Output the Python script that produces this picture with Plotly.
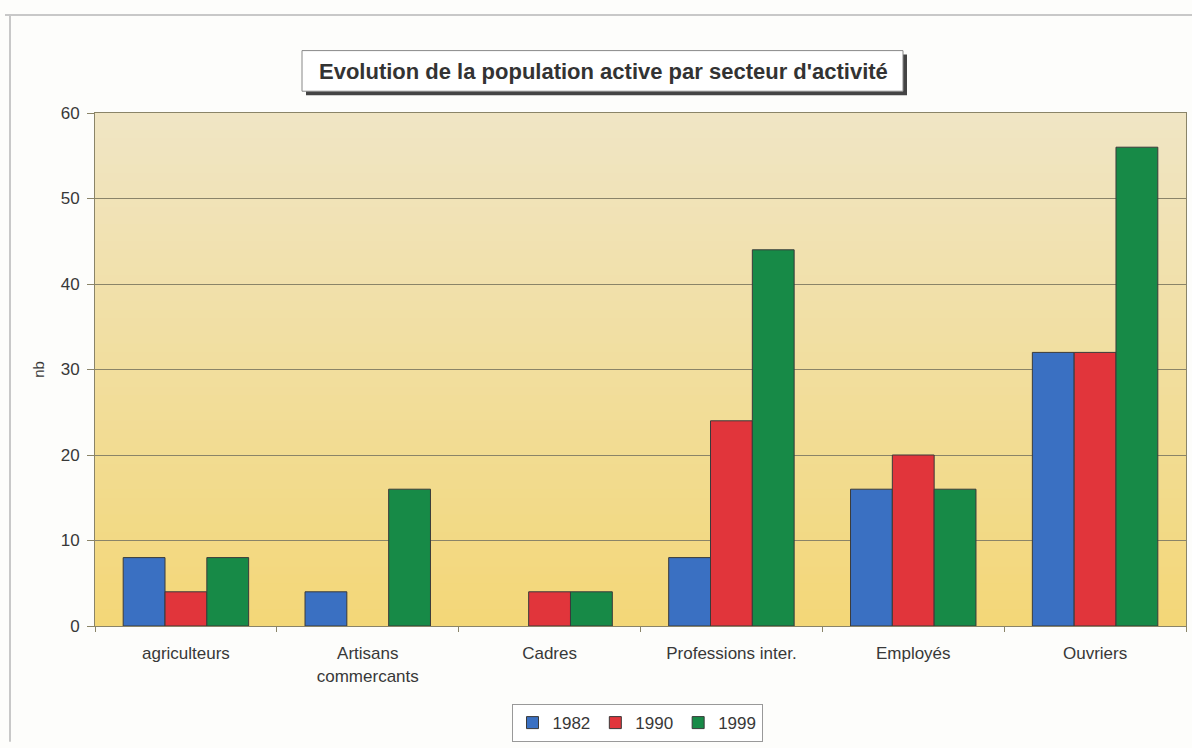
import plotly.graph_objects as go

categories = ["agriculteurs", "Artisans<br>commercants", "Cadres", "Professions inter.", "Employés", "Ouvriers"]
years = ["1982", "1990", "1999"]
v1982 = [8, 4, 0, 8, 16, 32]
v1990 = [4, 0, 4, 24, 20, 32]
v1999 = [8, 16, 4, 44, 16, 56]
colors = ["#3a70c2", "#e1353b", "#178a47"]

W, H = 1192, 748
L, R, T, B = 95, 6, 113, 117
pw, ph = W - L - R, H - T - B

def px(x):
    return (x - L) / pw

def py(y):
    return (H - B - y) / ph

fig = go.Figure()
for name, vals, c in zip(years, [v1982, v1990, v1999], colors):
    fig.add_trace(go.Bar(x=categories, y=vals, name=name,
                         marker=dict(color=c, line=dict(color="#3a3a3a",
                                                        width=[1 if v else 0 for v in vals]))))

# gradient background of plot area
top = (240, 229, 196)
bot = (243, 215, 120)
n = 60
shapes = []
for i in range(n):
    t = i / (n - 1)
    col = tuple(int(round(top[k] + (bot[k] - top[k]) * t)) for k in range(3))
    shapes.append(dict(type="rect", xref="x domain", yref="y domain", x0=0, x1=1,
                       y0=max(0, 1 - (i + 1.6) / n), y1=1 - i / n, layer="below",
                       fillcolor="rgb(%d,%d,%d)" % col, line=dict(width=0)))
# outer frame lines
shapes.append(dict(type="line", xref="paper", yref="paper", x0=px(5), x1=px(1192), y0=py(14), y1=py(14),
                   line=dict(color="#c8c8c8", width=2)))
shapes.append(dict(type="line", xref="paper", yref="paper", x0=px(10), x1=px(10), y0=py(14), y1=py(748),
                   line=dict(color="#c8c8c8", width=2)))
# title box shadow
shapes.append(dict(type="rect", xref="paper", yref="paper", x0=px(306), x1=px(907), y0=py(95), y1=py(54),
                   fillcolor="#444444", line=dict(width=0)))
shapes.append(dict(type="rect", xref="paper", yref="paper", x0=px(302), x1=px(903), y0=py(91), y1=py(50),
                   fillcolor="white", line=dict(color="#888888", width=1)))

fig.update_layout(
    width=W, height=H,
    margin=dict(l=L, r=R, t=T, b=B),
    paper_bgcolor="#fdfdfb",
    plot_bgcolor="rgba(0,0,0,0)",
    barmode="group",
    bargap=0.31,
    bargroupgap=0,
    shapes=shapes,
    font=dict(family="Liberation Sans, Arial", color="#383838", size=13),
    annotations=[dict(text="<b>Evolution de la population active par secteur d'activité</b>",
                      xref="paper", yref="paper", x=px(603), y=py(71), xanchor="center", yanchor="middle",
                      showarrow=False, font=dict(size=22, color="#333333"))],
    legend=dict(orientation="h", x=px(637), y=py(729), xanchor="center", yanchor="middle",
                bordercolor="#999999", borderwidth=1, bgcolor="white",
                font=dict(size=17, color="#383838"), itemwidth=30, tracegroupgap=0),
    yaxis=dict(range=[0, 60], dtick=10, showgrid=True, gridcolor="#8a8468", gridwidth=1,
               showline=True, linecolor="#8a8468", mirror=True, ticks="outside", ticklen=7,
               tickcolor="#8a8468", zeroline=False, tickfont=dict(size=17), ticklabelstandoff=4,
               title=dict(text="nb", font=dict(size=15), standoff=12)),
    xaxis=dict(showline=True, linecolor="#8a8468", mirror=True, ticks="outside", ticklen=5,
               tickcolor="#8a8468", tickson="boundaries", tickfont=dict(size=17),
               ticklabelstandoff=12),
)

fig.write_html("out.html")
